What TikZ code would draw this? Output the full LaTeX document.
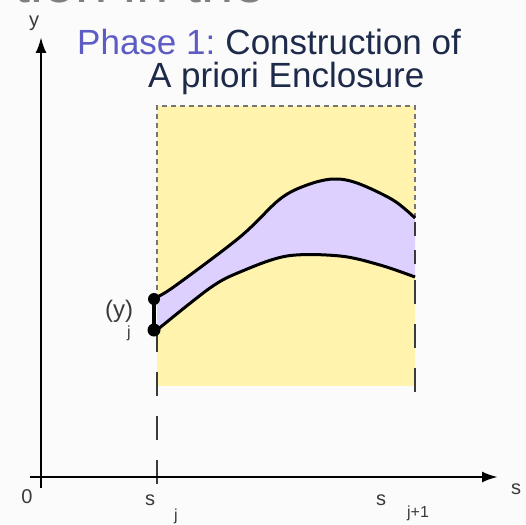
\documentclass[tikz,border=0pt]{standalone}
\usepackage{fontspec}
\setmainfont{Liberation Sans}
\usetikzlibrary{arrows.meta}
\definecolor{bg}{HTML}{FBFBFB}
\definecolor{encl}{HTML}{FFF3AD}
\definecolor{lav}{HTML}{DDD0FF}
\definecolor{phase}{HTML}{5C5CC4}
\definecolor{navy}{HTML}{1E2A4A}
\definecolor{dgray}{HTML}{3A3A3A}
\tikzset{
  axis/.style={line width=2.6pt, draw=black, -{Latex[length=16pt,width=11pt]}},
  curve/.style={line width=3pt, draw=black, line join=round},
  finedash/.style={draw=dgray!70, line width=1.2pt, dash pattern=on 5pt off 4pt},
  longdash/.style={draw=dgray, line width=2pt, dash pattern=on 24pt off 20pt},
  title/.style={font=\fontsize{35}{40}\selectfont, inner sep=0pt, anchor=base west},
  lbl/.style={font=\fontsize{20}{22}\selectfont, text=dgray, inner sep=0pt},
  sub/.style={font=\fontsize{16}{18}\selectfont, text=dgray, inner sep=0pt},
}
\begin{document}
\begin{tikzpicture}[x=1pt,y=-1pt]
\useasboundingbox[fill=bg] (0,0) rectangle (526,524);
% cut-off slide title
\node[font=\fontsize{58}{60}\selectfont, text=gray, inner sep=0pt, anchor=base east] (cut) at (266,3) {tion in the};
% enclosure box
\fill[encl] (157,106) rectangle (415,386);
\draw[finedash] (157,290) -- (157,106) -- (415,106) -- (415,220);
% band
\fill[lav] plot[smooth, tension=0.55] coordinates {(157,297) (175,286) (240,237) (280,199) (307,185) (333,179) (357,183) (393,200) (415,218)}
  -- plot[smooth, tension=0.55] coordinates {(415,277) (380,265) (340,256) (287,256) (240,272) (210,288) (157,330)} -- cycle;
\draw[curve] plot[smooth, tension=0.55] coordinates {(157,297) (175,286) (240,237) (280,199) (307,185) (333,179) (357,183) (393,200) (415,218)};
\draw[curve] plot[smooth, tension=0.55] coordinates {(157,330) (210,288) (240,272) (287,256) (340,256) (380,265) (415,277)};
% long dashed verticals
\coordinate (sjtop) at (157,332);
\coordinate (sjbot) at (157,488);
\coordinate (s1top) at (415,280);
\coordinate (s1bot) at (415,396);
\draw[longdash, dash phase=4pt] (sjtop) -- (sjbot);
\draw[longdash] (s1top) -- (s1bot);
\draw[draw=dgray, line width=1.2pt, dash pattern=on 14pt off 14pt] (415,222) -- (415,276);
% axes
\coordinate (ybot) at (41,488);
\coordinate (ytop) at (41,37);
\coordinate (xl) at (30,477);
\coordinate (xr) at (498,477);
\draw[axis] (ybot) -- (ytop);
\draw[axis] (xl) -- (xr);
% initial interval
\coordinate (yu) at (154,299);
\coordinate (yl) at (154,330);
\draw[line width=3.5pt] (yu) -- (yl);
\fill (yu) circle (6pt);
\fill (yl) circle (6.5pt);
% labels
\node[font=\rmfamily\fontsize{20}{22}\selectfont, text=dgray, inner sep=0pt] (ylab) at (34,23) {y};
\node[title, text=phase] (t1) at (77,55) {Phase 1:};
\node[title, text=navy, anchor=base west] (t1b) at (t1.base east) {\ Construction of};
\node[title, text=navy] (t2) at (148,88) {A priori Enclosure};
\node[font=\fontsize{24}{26}\selectfont, text=dgray, inner sep=0pt] (yj) at (119,311) {(y)};
\node[sub] (yjs) at (129,333) {j};
\node[lbl] (zero) at (27,497) {0};
\node[lbl] (sj) at (150,500) {s};
\node[sub] (sjs) at (176,516) {j};
\node[lbl] (sj1) at (381,500) {s};
\node[sub] (sj1s) at (418,513) {j+1};
\node[lbl] (slab) at (516,489) {s};
\end{tikzpicture}
\end{document}
